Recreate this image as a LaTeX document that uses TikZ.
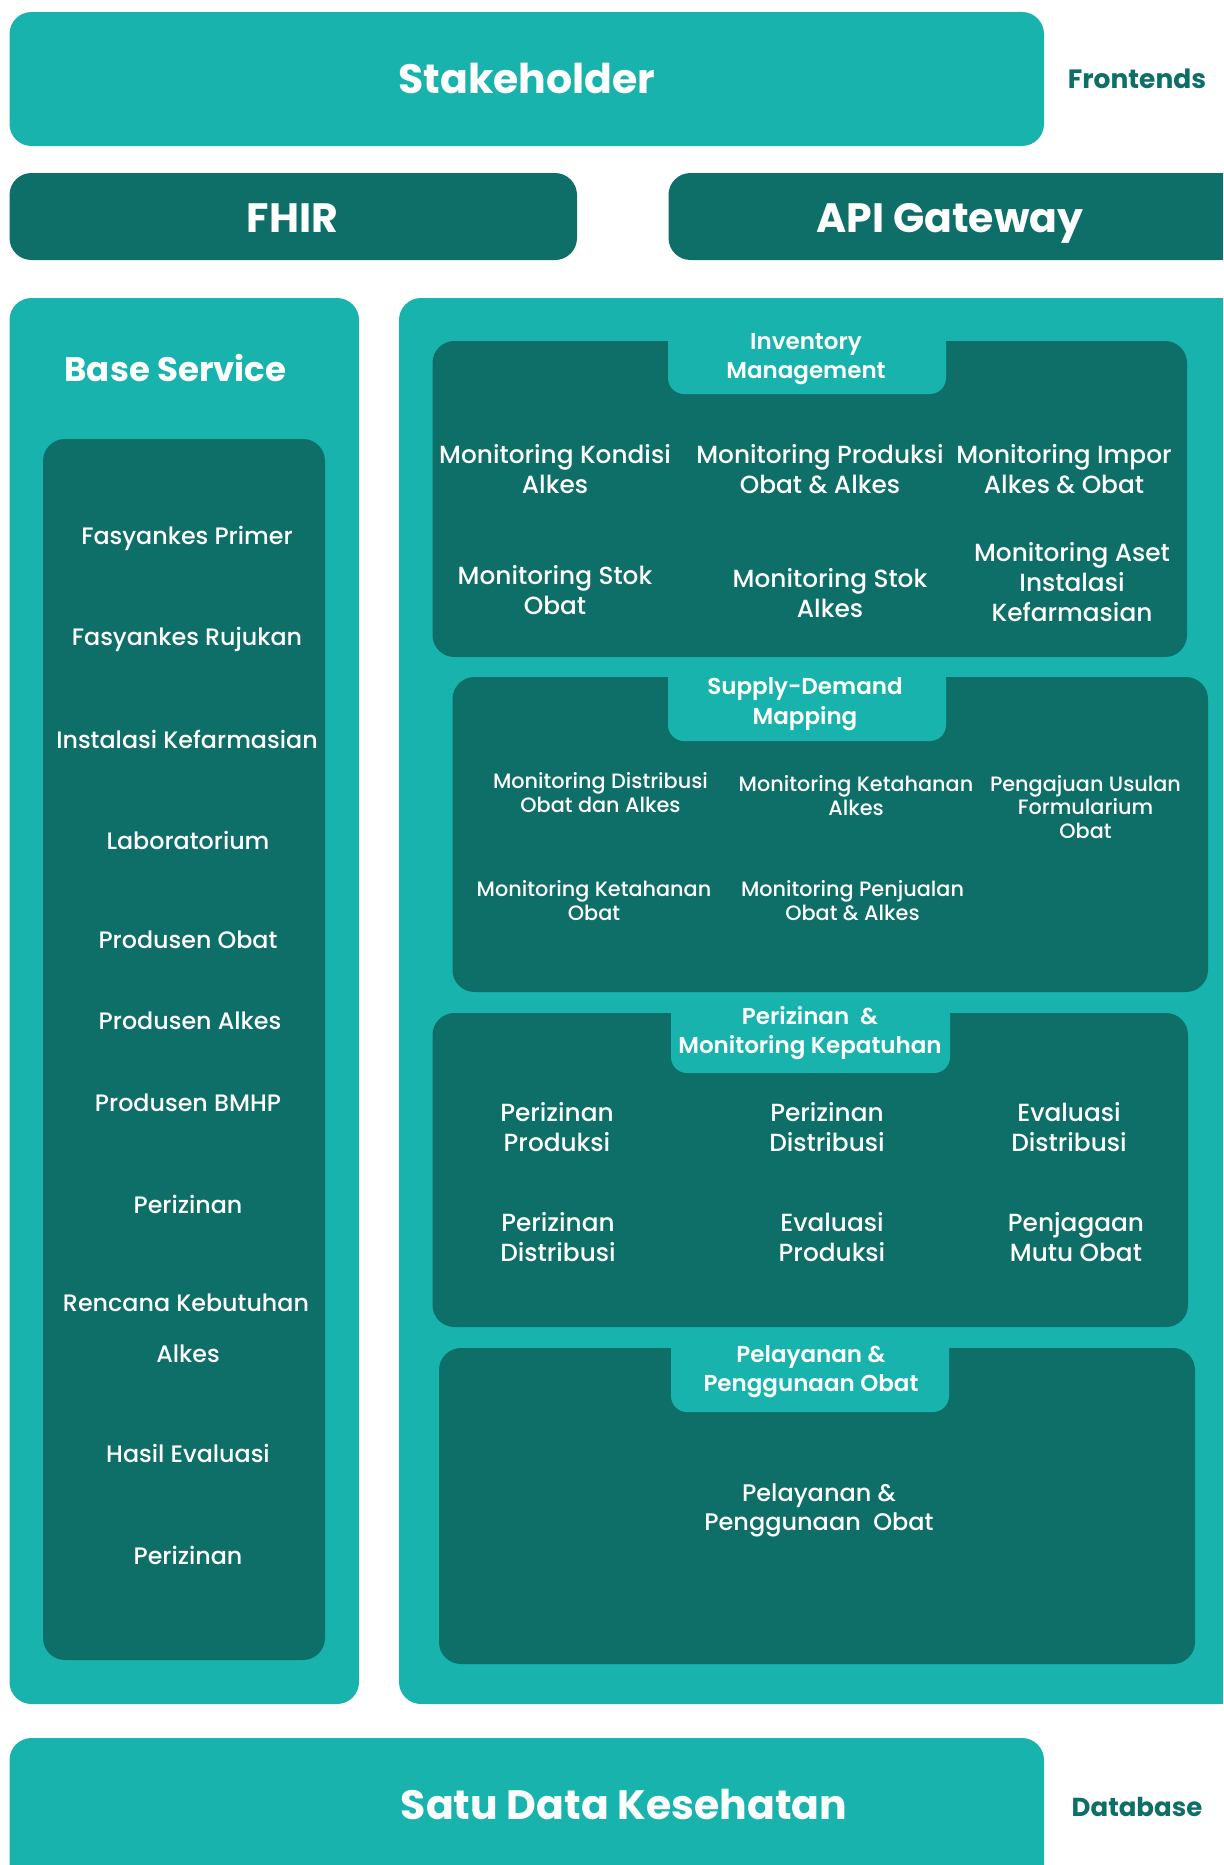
\documentclass[tikz,border=0pt]{standalone}
\usepackage{fontspec}
\setmainfont{Poppins}
\newfontfamily\pmed{Poppins Medium}
\newfontfamily\psemi{Poppins SemiBold}
\definecolor{lt}{HTML}{17B3AC}
\definecolor{dk}{HTML}{0E6E68}
\begin{document}
\begin{tikzpicture}[x=1pt,y=-1pt,
  txt/.style={text=white, align=center, inner sep=0pt},
  title/.style={txt, font=\bfseries\fontsize{41}{48}\selectfont, text height=28.7pt, text depth=0pt},
  side/.style={text=dk, inner sep=0pt, font=\bfseries\fontsize{26.5}{30}\selectfont, text height=18.5pt, text depth=0pt},
  tabtxt/.style={txt, font=\psemi\fontsize{23}{29.5}\selectfont},
  item/.style={txt, font=\pmed\fontsize{24.8}{30}\selectfont},
  sitem/.style={txt, font=\pmed\fontsize{20.8}{23.5}\selectfont},
  bitem/.style={txt, font=\pmed\fontsize{23.8}{27}\selectfont},
  panel/.style={fill=lt, rounded corners=22},
  darkbox/.style={fill=dk, rounded corners=22},
  tabbox/.style={fill=lt, rounded corners=16}]
\useasboundingbox (0,0) rectangle (1223,1865);
\begin{scope}
\clip (0,0) rectangle (1223,1865);
% top
\fill[panel] (9.5,12) rectangle (1044,146);
\fill[darkbox] (9.5,173) rectangle (577,260);
\fill[darkbox] (668.5,173) rectangle (1270,260);
% base service
\fill[panel] (9.5,298) rectangle (359,1704);
\fill[darkbox] (43,439) rectangle (325,1660);
% right panel
\fill[panel] (399,298) rectangle (1270,1704);
% inventory
\fill[darkbox] (432.5,341) rectangle (1187,657);
\fill[tabbox] (668,318) rectangle (946,394);
% supply
\fill[darkbox] (452.5,677) rectangle (1208,992);
\fill[tabbox] (668,659) rectangle (946,741);
% perizinan
\fill[darkbox] (432.5,1013) rectangle (1188,1327);
\fill[tabbox] (671,994) rectangle (950,1073);
% pelayanan
\fill[darkbox] (439,1348) rectangle (1195,1664);
\fill[tabbox] (671,1329) rectangle (949,1412);
% database
\fill[panel] (9.5,1738) rectangle (1044,1920);
\end{scope}

\node[title] (stake) at (527,79) {Stakeholder};
\node[side] (fe) at (1137,79) {Frontends};
\node[title] (fhir) at (292.5,218) {FHIR};
\node[title] (api) at (950,218) {API Gateway};
\node[title, font=\bfseries\fontsize{34}{40}\selectfont, text height=23.8pt] (base) at (175.5,370) {Base Service};

\node[bitem] (b1) at (187,538) {Fasyankes Primer};
\node[bitem] (b2) at (187,639) {Fasyankes Rujukan};
\node[bitem] (b3) at (187,739) {Instalasi Kefarmasian};
\node[bitem] (b4) at (188,840) {Laboratorium};
\node[bitem] (b5) at (188,940) {Produsen Obat};
\node[bitem] (b6) at (190,1021) {Produsen Alkes};
\node[bitem] (b7) at (188,1103) {Produsen BMHP};
\node[bitem] (b8) at (188,1204) {Perizinan};
\node[bitem] (b9) at (186,1303) {Rencana Kebutuhan};
\node[bitem] (b10) at (188,1354) {Alkes};
\node[bitem] (b11) at (188,1453) {Hasil Evaluasi};
\node[bitem] (b12) at (188,1555) {Perizinan};

\node[tabtxt] (t1) at (806,359) {Inventory\\Management};
\node[item] (i1) at (555,469) {Monitoring Kondisi\\Alkes};
\node[item] (i2) at (820,469) {Monitoring Produksi\\Obat \& Alkes};
\node[item] (i3) at (1064,469) {Monitoring Impor\\Alkes \& Obat};
\node[item] (i4) at (555,590) {Monitoring Stok\\Obat};
\node[item] (i5) at (830,593) {Monitoring Stok\\Alkes};
\node[item] (i6) at (1072,582) {Monitoring Aset\\Instalasi\\Kefarmasian};

\node[tabtxt] (t2) at (805,704) {Supply-Demand\\Mapping};
\node[sitem] (s1) at (600.5,792.5) {Monitoring Distribusi\\Obat dan Alkes};
\node[sitem] (s2) at (856,795.5) {Monitoring Ketahanan\\Alkes};
\node[sitem] (s3) at (1085.5,807) {Pengajuan Usulan\\Formularium\\Obat};
\node[sitem] (s4) at (594,900.5) {Monitoring Ketahanan\\Obat};
\node[sitem] (s5) at (852.5,900.5) {Monitoring Penjualan\\Obat \& Alkes};

\node[tabtxt] (t3) at (810,1033) {Perizinan~~\&\\Monitoring Kepatuhan};
\node[item] (p1) at (557,1127) {Perizinan\\Produksi};
\node[item] (p2) at (827,1127) {Perizinan\\Distribusi};
\node[item] (p3) at (1069,1127) {Evaluasi\\Distribusi};
\node[item] (p4) at (558,1237.5) {Perizinan\\Distribusi};
\node[item] (p5) at (832,1237.5) {Evaluasi\\Produksi};
\node[item] (p6) at (1076,1237.5) {Penjagaan\\Mutu Obat};

\node[tabtxt] (t4) at (811,1371.5) {Pelayanan \&\\Penggunaan Obat};
\node[item, font=\pmed\fontsize{24}{29}\selectfont] (pl) at (819,1510.5) {Pelayanan \&\\Penggunaan~~Obat};

\node[title] (sdk) at (624,1805) {Satu Data Kesehatan};
\node[side, font=\bfseries\fontsize{26}{30}\selectfont, text height=18.2pt] (db) at (1137,1807) {Database};
\end{tikzpicture}
\end{document}
